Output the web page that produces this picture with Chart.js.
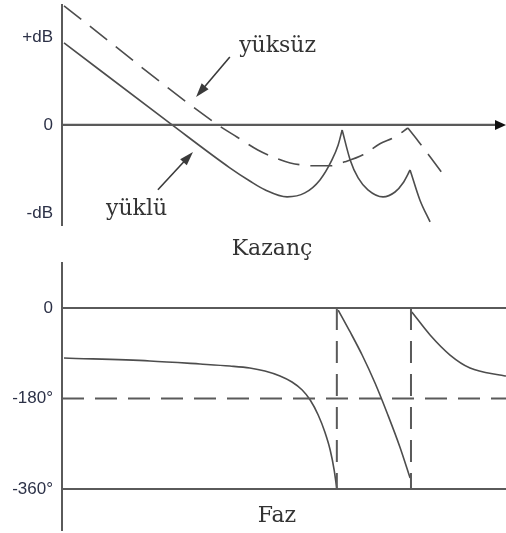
<!DOCTYPE html>
<html>
<head>
<meta charset="utf-8">
<script src="https://cdn.jsdelivr.net/npm/chart.js@4/dist/chart.umd.min.js"></script>
<style>
  html, body { margin: 0; padding: 0; background: #fff; }
  #wrap { position: relative; width: 506px; height: 533px; }
  #gain { position: absolute; left: 0; top: 0; }
  #phase { position: absolute; left: 0; top: 262px; }
</style>
</head>
<body>
<div id="wrap">
  <canvas id="gain" width="506" height="262"></canvas>
  <canvas id="phase" width="506" height="271"></canvas>
</div>
<script>
// Frequency runs on a relative 0..100 scale (log-frequency feel, no units).

// Gain (dB) — loaded response, split at its resonance cusps
const loadedGain1 = [[0.45, 37.3], [24.8, 0], [37.8, -19.5], [42.3, -25.5], [45.7, -29.5], [50.7, -32.7], [54.7, -30.9], [58.1, -25.0], [60.8, -15.9], [62.2, -9.1], [63.1, -2.3]];
const loadedGain2 = [[63.1, -2.3], [64.9, -15.9], [66.7, -24.1], [68.9, -29.5], [72.3, -32.7], [75.0, -30.5], [76.8, -26.4], [78.4, -20.5]];
const loadedGain3 = [[78.4, -20.5], [80.6, -34.1], [82.9, -44.1]];

// Gain (dB) — unloaded response
const unloadedGain1 = [[0.45, 54.1], [35.1, 0], [39.4, -5.5], [44.1, -11.4], [48.0, -15.0], [51.4, -17.3], [57.0, -18.6], [60.4, -18.6], [63.7, -16.8], [67.8, -13.6], [71.6, -8.6], [75.0, -5.5], [77.9, -1.4]];
const unloadedGain2 = [[77.9, -1.4], [80.2, -7.3], [82.9, -14.5], [85.6, -21.8]];

// Phase (degrees)
const phase1 = [[0.45, -99.4], [19.8, -105.4], [31.1, -111.4], [37.8, -115.4], [42.3, -119.3], [45.7, -125.3], [49.1, -135.2], [51.8, -147.2], [54.1, -163.1], [55.9, -183.0], [57.7, -212.8], [59.2, -246.6], [60.4, -282.4], [61.3, -322.2], [61.9, -360]];
const phase2 = [[62.2, -4], [64.9, -47.7], [67.6, -93.5], [70.5, -149.2], [73.4, -212.8], [76.1, -276.4], [78.4, -338.1]];
const phase3 = [[78.8, -8], [82.9, -53.7], [87.4, -93.5], [91.9, -119.3], [98.6, -133.3], [100, -135.2]];
const phaseJumps = [61.9, 78.6];

// Axis ticks
const gainTickValues = [-40, 0, 40];
const gainTickLabels = ['-dB', '0', '+dB'];
const phaseTickValues = [-360, -180, 0];
const phaseTickLabels = ['-360°', '-180°', '0'];

// Captions
const unloadedName = 'yüksüz';
const loadedName = 'yüklü';
const gainTitle = 'Kazanç';
const phaseTitle = 'Faz';

const INK = '#4d4d4d';
const AXIS = '#5a5a5a';
const DASH = [22, 11];
const SERIF = '"DejaVu Serif", serif';
const SANS = '"Liberation Sans", Arial, sans-serif';

const pts = arr => arr.map(([x, y]) => ({ x, y }));

function curve(arr, dashed) {
  return {
    data: pts(arr),
    borderColor: INK,
    borderWidth: 1.6,
    borderDash: dashed ? DASH : [],
    pointRadius: 0,
    cubicInterpolationMode: 'monotone',
    fill: false
  };
}

function rule(arr, dashed, width) {
  return {
    data: pts(arr),
    borderColor: AXIS,
    borderWidth: width || 2,
    borderDash: dashed ? DASH : [],
    pointRadius: 0,
    tension: 0,
    fill: false
  };
}

function arrowHead(ctx, x0, y0, x1, y1, len, half) {
  const a = Math.atan2(y1 - y0, x1 - x0);
  ctx.beginPath();
  ctx.moveTo(x1, y1);
  ctx.lineTo(x1 - len * Math.cos(a) + half * Math.sin(a), y1 - len * Math.sin(a) - half * Math.cos(a));
  ctx.lineTo(x1 - len * Math.cos(a) - half * Math.sin(a), y1 - len * Math.sin(a) + half * Math.cos(a));
  ctx.closePath();
  ctx.fill();
}

// Draws captions, pointer arrows and the arrowhead on the frequency axis
const notes = {
  id: 'notes',
  afterDatasetsDraw(chart, args, opts) {
    const { ctx } = chart;
    const sx = chart.scales.x, sy = chart.scales.y;
    ctx.save();
    ctx.fillStyle = '#3a3a3a';
    ctx.strokeStyle = '#3a3a3a';
    (opts.arrows || []).forEach(a => {
      const x0 = sx.getPixelForValue(a.from[0]), y0 = sy.getPixelForValue(a.from[1]);
      const x1 = sx.getPixelForValue(a.to[0]), y1 = sy.getPixelForValue(a.to[1]);
      ctx.lineWidth = 1.6;
      ctx.beginPath();
      ctx.moveTo(x0, y0);
      const ang = Math.atan2(y1 - y0, x1 - x0);
      ctx.lineTo(x1 - 8 * Math.cos(ang), y1 - 8 * Math.sin(ang));
      ctx.stroke();
      arrowHead(ctx, x0, y0, x1, y1, 14, 4.5);
    });
    if (opts.axisArrow) {
      const y0 = sy.getPixelForValue(0);
      const xr = chart.chartArea.right;
      ctx.fillStyle = '#111';
      arrowHead(ctx, xr - 20, y0, xr, y0, 11, 5);
    }
    ctx.fillStyle = '#333';
    (opts.texts || []).forEach(t => {
      ctx.font = '22px ' + SERIF;
      ctx.textAlign = t.align || 'left';
      ctx.textBaseline = 'alphabetic';
      ctx.fillText(t.text, sx.getPixelForValue(t.at[0]), sy.getPixelForValue(t.at[1]));
    });
    ctx.restore();
  }
};

function yAxis(min, max, values, labels) {
  return {
    type: 'linear',
    position: 'left',
    min, max,
    grid: { display: false, drawTicks: false },
    border: { display: true, color: AXIS, width: 2 },
    afterBuildTicks: s => { s.ticks = values.map(v => ({ value: v })); },
    afterFit: s => { s.width = 62; s.paddingTop = 0; s.paddingBottom = 0; },
    ticks: {
      padding: 9,
      color: '#2c3147',
      font: { family: SANS, size: 17 },
      callback: v => labels[values.indexOf(v)]
    }
  };
}

const common = {
  responsive: false,
  animation: false,
  events: [],
  devicePixelRatio: 1,
  plugins: { legend: { display: false }, tooltip: { enabled: false } }
};

new Chart(document.getElementById('gain'), {
  type: 'line',
  data: {
    datasets: [
      rule([[0, 0], [98, 0]], false, 2.2),
      curve(loadedGain1), curve(loadedGain2), curve(loadedGain3),
      curve(unloadedGain1, true), curve(unloadedGain2, true)
    ]
  },
  options: {
    ...common,
    layout: { padding: { left: 0, right: 0, top: 5, bottom: 37 } },
    scales: {
      x: { type: 'linear', min: 0, max: 100, display: false },
      y: yAxis(-45.5, 54.5, gainTickValues, gainTickLabels)
    },
    plugins: {
      ...common.plugins,
      notes: {
        axisArrow: true,
        arrows: [
          { from: [37.8, 30.9], to: [30.2, 12.7] },
          { from: [21.6, -29.5], to: [29.5, -12.3] }
        ],
        texts: [
          { text: unloadedName, at: [39.9, 33.2] },
          { text: loadedName, at: [9.9, -40.9] },
          { text: gainTitle, at: [47.3, -59.1], align: 'center' }
        ]
      }
    }
  },
  plugins: [notes]
});

new Chart(document.getElementById('phase'), {
  type: 'line',
  data: {
    datasets: [
      rule([[0, 0], [100, 0]], false, 2.2),
      rule([[0, -360], [100, -360]], false, 2.2),
      rule([[0, -180], [100, -180]], true, 2),
      ...phaseJumps.map(f => rule([[f, 0], [f, -360]], true, 2)),
      curve(phase1), curve(phase2), curve(phase3)
    ]
  },
  options: {
    ...common,
    layout: { padding: { left: 0, right: 0, top: 1, bottom: 3 } },
    scales: {
      x: { type: 'linear', min: 0, max: 100, display: false },
      y: yAxis(-441.5, 89.5, phaseTickValues, phaseTickLabels)
    },
    plugins: {
      ...common.plugins,
      notes: {
        texts: [
          { text: phaseTitle, at: [48.4, -425.6], align: 'center' }
        ]
      }
    }
  },
  plugins: [notes]
});
</script>
</body>
</html>
